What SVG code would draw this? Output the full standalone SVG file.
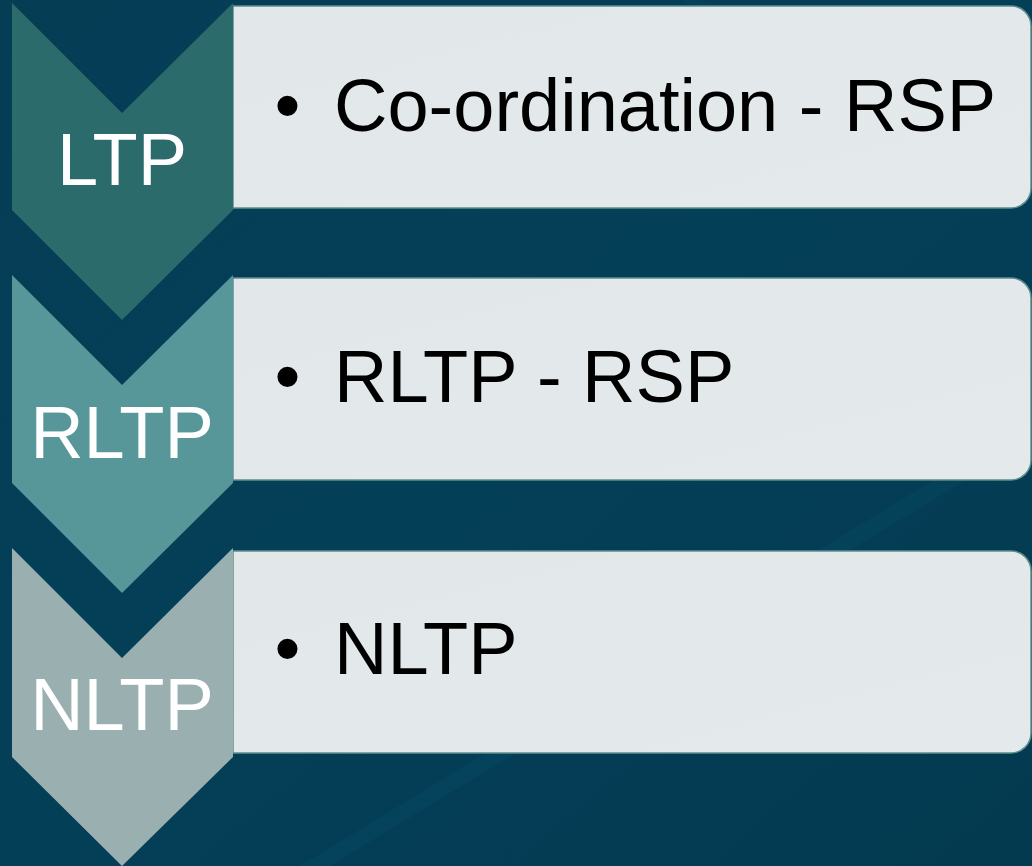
<svg xmlns="http://www.w3.org/2000/svg" width="1032" height="866" viewBox="0 0 1032 866">
<defs>
<linearGradient id="bg" x1="0" y1="0" x2="1" y2="1">
<stop offset="0" stop-color="#053d55"/>
<stop offset="0.5" stop-color="#043f58"/>
<stop offset="1" stop-color="#033a50"/>
</linearGradient>
<linearGradient id="box" x1="0" y1="0" x2="1" y2="1">
<stop offset="0" stop-color="#e2e7ea"/>
<stop offset="1" stop-color="#e4e9eb"/>
</linearGradient>
</defs>
<style>
.box{fill:url(#box);stroke:#5f8f8e;stroke-width:1.5}
.lbl{font-family:"Liberation Sans",Arial,sans-serif;font-size:74px;fill:#ffffff;text-anchor:middle}
.txt{font-family:"Liberation Sans",Arial,sans-serif;font-size:74px;fill:#000000}
</style>
<rect x="0" y="0" width="1032" height="866" fill="url(#bg)"/>
<path d="M300,866 L1032,420 L1032,440 L330,866Z" fill="#0a4c66" opacity="0.35"/>
<path d="M700,0 L1032,180 L1032,200 L680,0Z" fill="#0a4c66" opacity="0.25"/>
<g id="connectors"></g>
<g id="node-ltp">
<path class="box" d="M233,6 H1011 A20,20 0 0 1 1031,26 V188 A20,20 0 0 1 1011,208 H233Z"/>
<polygon points="12,3 122,113 233,3 233,210 122,320 12,210" fill="#2c6b6b"/>
<text class="lbl" x="122" y="185">LTP</text>
<text class="txt" x="274.5" y="131">•</text>
<text class="txt" x="334" y="131">Co-ordination - RSP</text>
</g>
<g id="node-rltp">
<path class="box" d="M233,278 H1011 A20,20 0 0 1 1031,298 V460 A20,20 0 0 1 1011,480 H233Z"/>
<polygon points="12,275 122,385 233,275 233,483 122,593 12,483" fill="#589799"/>
<text class="lbl" x="122" y="458">RLTP</text>
<text class="txt" x="274.5" y="402">•</text>
<text class="txt" x="334" y="402">RLTP - RSP</text>
</g>
<g id="node-nltp">
<path class="box" d="M233,551 H1011 A20,20 0 0 1 1031,571 V733 A20,20 0 0 1 1011,753 H233Z"/>
<polygon points="12,548 122,658 233,548 233,757 122,866 12,757" fill="#9aafb0"/>
<text class="lbl" x="122" y="730">NLTP</text>
<text class="txt" x="274.5" y="674">•</text>
<text class="txt" x="334" y="674">NLTP</text>
</g>
</svg>
